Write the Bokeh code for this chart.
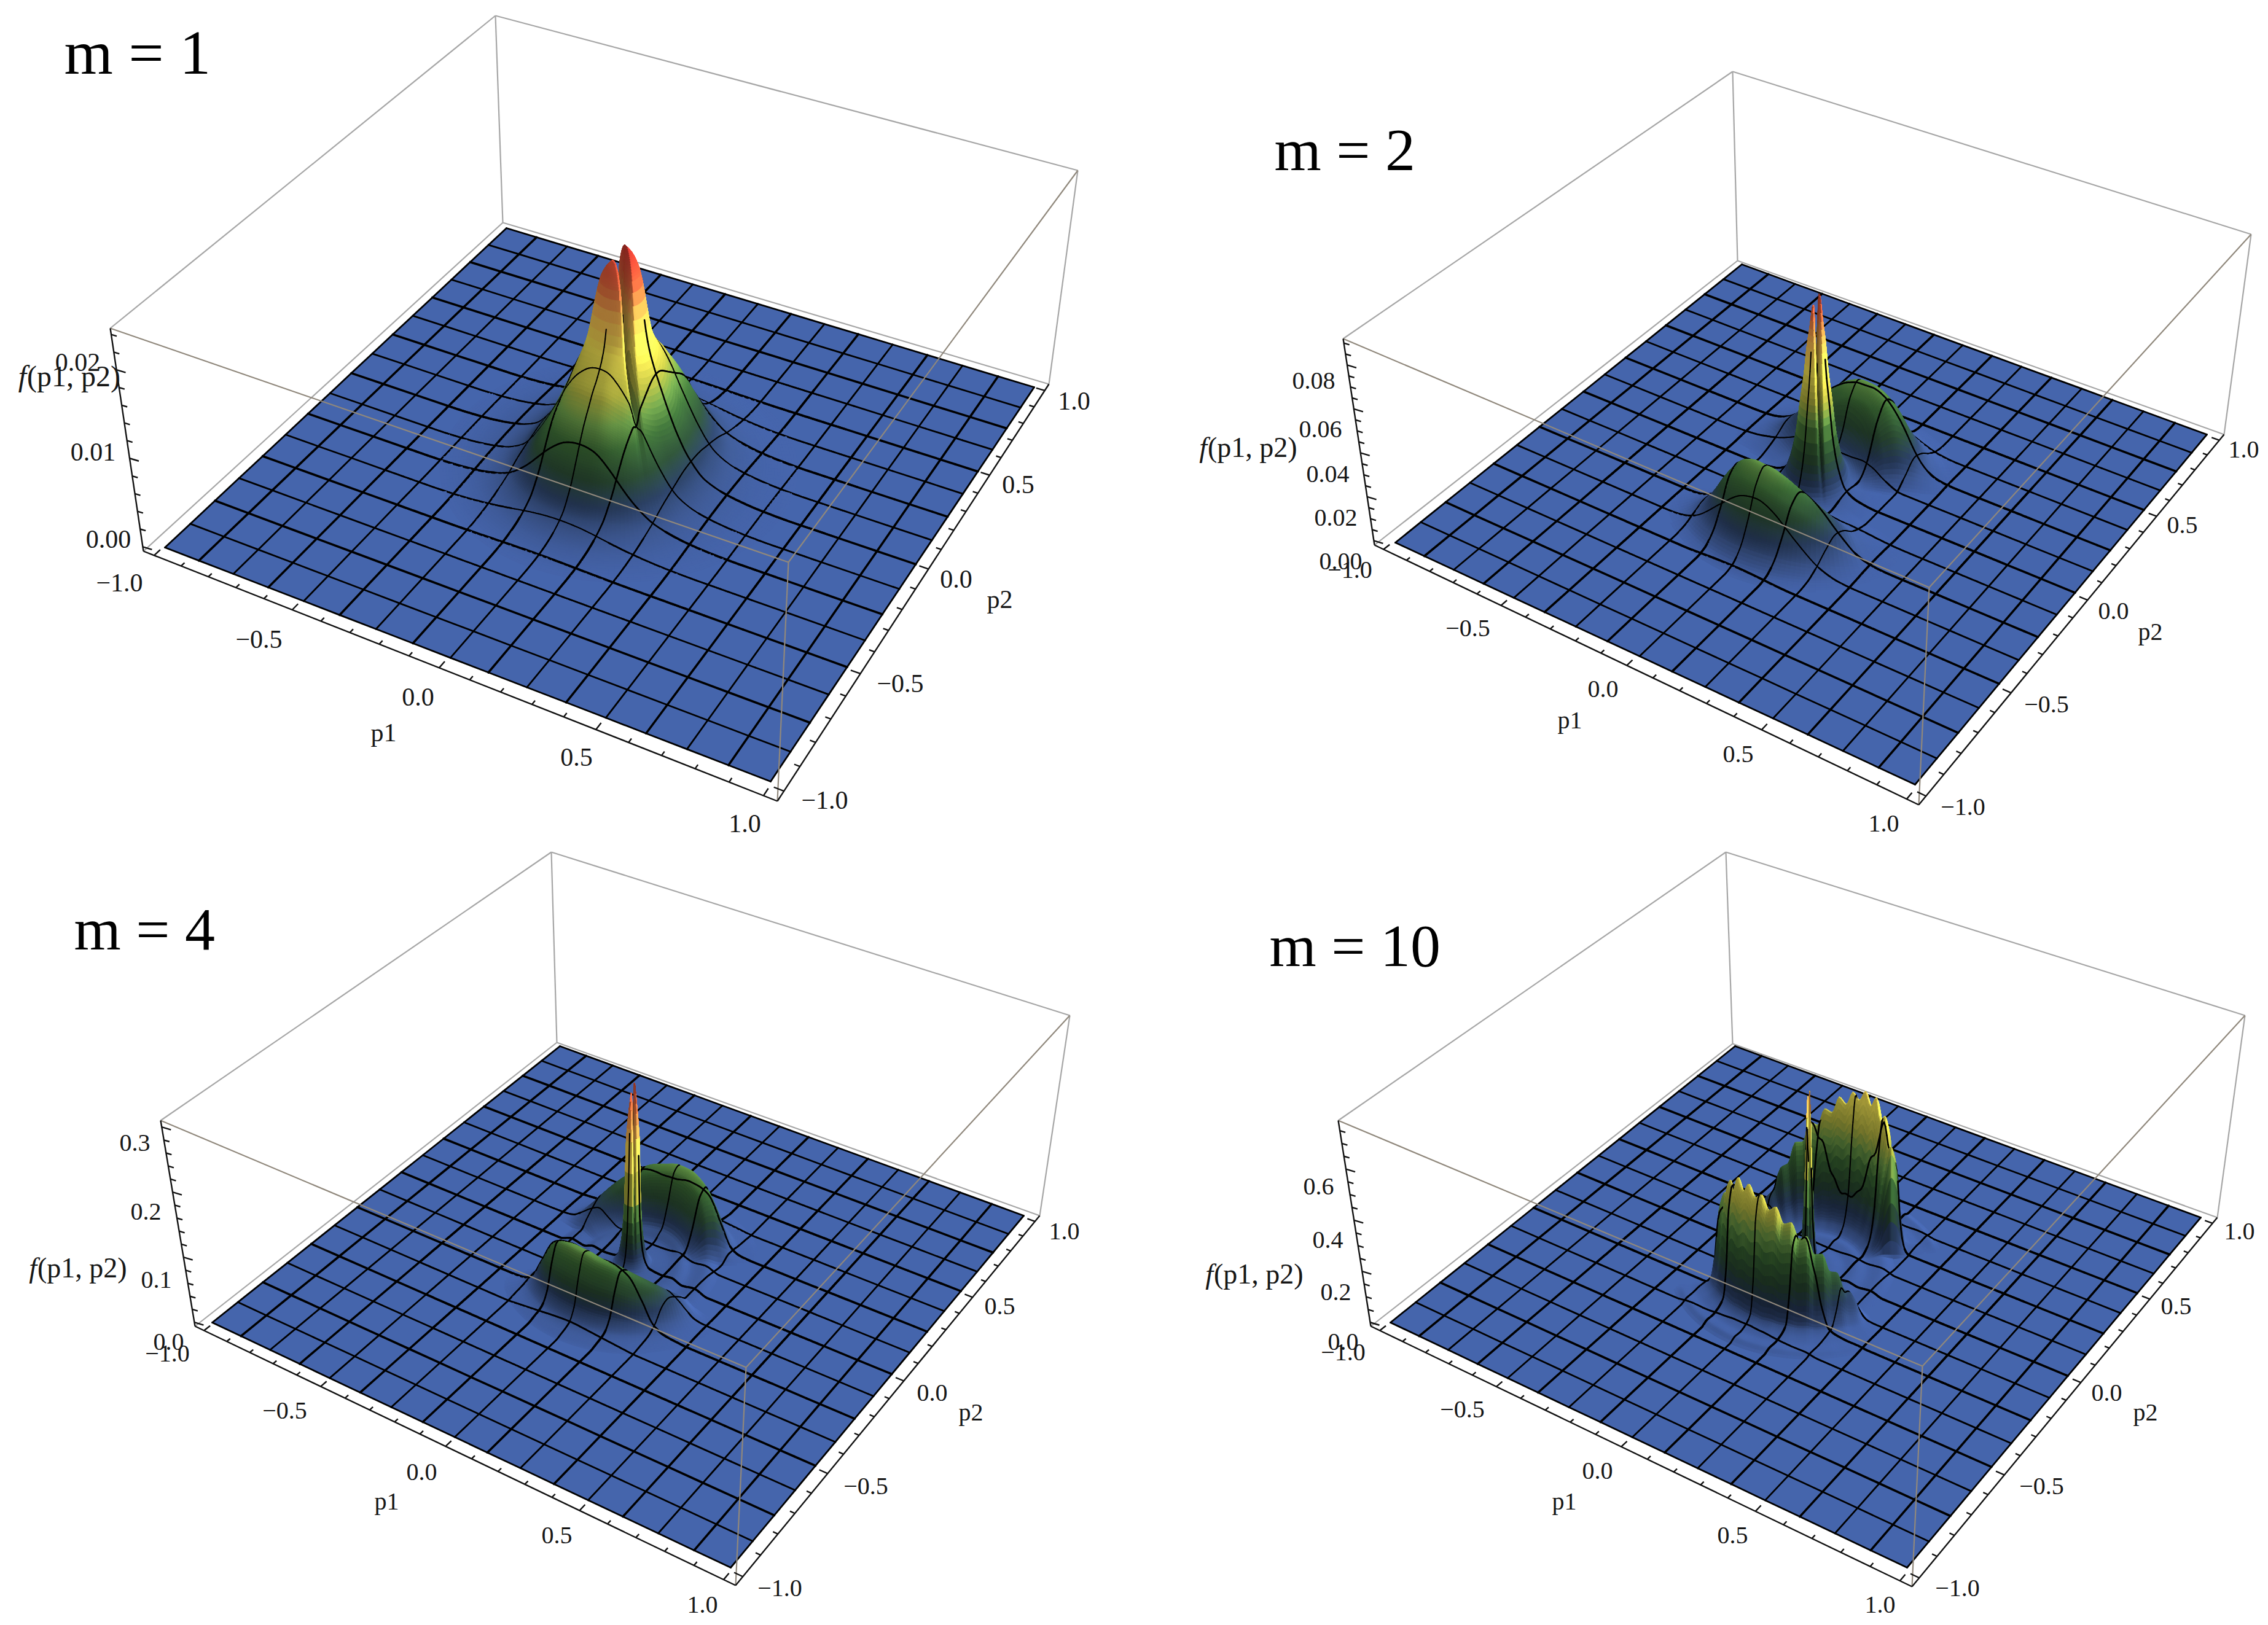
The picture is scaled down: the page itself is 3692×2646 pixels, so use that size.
import numpy as np
from bokeh.core.properties import value
from bokeh.embed import file_html
from bokeh.layouts import column, row
from bokeh.models import ColumnDataSource, Range1d
from bokeh.plotting import figure
from bokeh.resources import INLINE

# ---------- values (heights f(p1,p2) in axis units) ----------
m_labels = ["m = 1", "m = 2", "m = 4", "m = 10"]
p_tick_values = [-1.0, -0.5, 0.0, 0.5, 1.0]
p_tick_labels = ["\u22121.0", "\u22120.5", "0.0", "0.5", "1.0"]

z_tick_values_1 = [0.0, 0.01, 0.02]
z_tick_labels_1 = ["0.00", "0.01", "0.02"]
z_tick_values_2 = [0.0, 0.02, 0.04, 0.06, 0.08]
z_tick_labels_2 = ["0.00", "0.02", "0.04", "0.06", "0.08"]
z_tick_values_3 = [0.0, 0.1, 0.2, 0.3]
z_tick_labels_3 = ["0.0", "0.1", "0.2", "0.3"]
z_tick_values_4 = [0.0, 0.2, 0.4, 0.6]
z_tick_labels_4 = ["0.0", "0.2", "0.4", "0.6"]

# central spike: radial profile
spike_r_1 = [0, .03, .055, .1, .14, .2, .24, .3, .4, .5, .6]
spike_f_1 = [.0249, .0240, .0222, .0140, .0100, .0052, .0030, .0012, .0004, .0001, 0]
spike_r_2 = [0, .012, .022, .03, .04, .052, .068, .09, .12, .17, .25]
spike_f_2 = [.093, .086, .074, .066, .052, .040, .024, .012, .004, .001, 0]
spike_r_3 = [0, .005, .01, .016, .022, .026, .036, .05, .07, .12, .16, .2, .25, .3]
spike_f_3 = [.312, .285, .26, .23, .19, .11, .045, .018, .008, .006, .008, .003, .006, 0]
spike_r_4 = [0, .0025, .005, .01, .016, .024, .04, .08, .12, .16, .2, .25, .3]
spike_f_4 = [.80, .74, .64, .43, .22, .09, .018, .012, .006, .012, .006, .012, 0]

# left summit stands a little lower than the right one
left_r_1 = [0, .06, .15]
left_k_1 = [.93, .96, 1]
left_r_2 = [0, .03, .08]
left_k_2 = [.94, .97, 1]
left_r_3 = [0, .015, .04]
left_k_3 = [.94, .97, 1]
left_r_4 = [0, .01, .03]
left_k_4 = [.97, .98, 1]

# slit through the spike top: depth along the slit, and across it
slit_r_1 = [0, .05, .1, .2, .3]
slit_depth_1 = [.55, .5, .35, .08, 0]
slit_d_1 = [0, .005, .01, .017]
slit_w_1 = [1, .85, .35, 0]
slit_r_2 = [0, .03, .06, .1, .15]
slit_depth_2 = [.5, .45, .3, .1, 0]
slit_d_2 = [0, .003, .006, .01]
slit_w_2 = [1, .85, .35, 0]
slit_r_3 = [0, .015, .03, .05]
slit_depth_3 = [.5, .4, .2, 0]
slit_d_3 = [0, .0015, .003, .005]
slit_w_3 = [1, .85, .35, 0]
slit_r_4 = [0, .01, .02, .03]
slit_depth_4 = [.5, .4, .2, 0]
slit_d_4 = [0, .001, .002, .004]
slit_w_4 = [1, .85, .35, 0]

# crescent: crest height by polar angle (repeats every 180 degrees)
crest_deg_1 = [-180, -160, -140, -120, -100, -80, -60, -40, -20, 0]
crest_f_1 = [.0004, .0008, .0023, .0043, .0050, .0050, .0038, .0020, .0007, .0004]
crest_deg_2 = [-180, -150, -140, -130, -120, -110, -100, -90, -80, -70, -60, -50, -40, -30, -20, -10, 0]
crest_f_2 = [0, 0, .004, .014, .024, .029, .031, .031, .029, .025, .020, .014, .008, .003, .001, 0, 0]
crest_deg_3 = [-180, -145, -138, -130, -120, -110, -100, -90, -80, -70, -60, -50, -40, -30, -20, -12, 0]
crest_f_3 = [0, 0, .015, .05, .075, .085, .09, .09, .085, .08, .07, .058, .044, .028, .012, 0, 0]
crest_deg_4 = [-180, -136, -132, -128, -123, -118, -113, -108, -103, -98, -93, -88, -83, -78, -73, -68, -63,
               -58, -53, -48, -43, -38, -33, -28, -23, -18, 0]
crest_f_4 = [0, 0, .15, .36, .34, .44, .41, .48, .44, .48, .44, .46, .41, .43, .37, .38, .32,
             .33, .26, .26, .19, .18, .11, .09, .03, 0, 0]
# the far crescent compared with the near one
back_k = [1.0, 1.0, 1.0, 1.12]

# crescent: radial profile (share of the crest)
ring_r_1 = [.05, .09, .135, .18, .225, .27, .315, .36, .45, .54]
ring_w_1 = [0, .15, .45, .85, 1, .8, .45, .2, .04, 0]
ring_r_2 = [.095, .14, .19, .24, .285, .33, .38, .43, .475, .52]
ring_w_2 = [0, .1, .4, .85, 1, .85, .45, .15, .03, 0]
ring_r_3 = [.14, .18, .22, .26, .29, .32, .35, .38, .42, .46]
ring_w_3 = [0, .1, .45, .9, 1, .7, .25, .08, .03, 0]
ring_r_4 = [.18, .22, .25, .27, .29, .31, .33, .35, .38, .41, .44, .47]
ring_w_4 = [0, .05, .25, .7, 1, .85, .35, .08, .03, .015, .02, 0]

# ---------- camera of each panel: screen corners (left, front, right, back) ----------
PANELS = [
    dict(m=m_labels[0], mfs=102, frame=(0, 1850, 0, 1372), label_xy=(104, 85), back=back_k[0],
         top=[(179, 534), (1283, 915), (1754, 277), (806, 25)],
         floor=[(233, 897), (1265, 1304), (1707, 625), (818, 362)],
         surf=[(268, 891), (1254, 1272), (1683, 630), (824, 371)],
         zlim=(-.0005, .0247), zscale=.0247, zminor=.002,
         zv=z_tick_values_1, zl=z_tick_labels_1,
         z_xy=[(176, 877), (151, 735), (126, 589)],
         p1_xy=[(194, 948), (421, 1040), (680, 1134), (938, 1232), (1212, 1340)],
         p2_xy=[(1342, 1302), (1465, 1112), (1556, 942), (1657, 788), (1748, 652)],
         p1_name=(624, 1192), p2_name=(1627, 975), f_xy=(112, 612), fs=42, ffs=48,
         spike=(spike_r_1, spike_f_1), left=(left_r_1, left_k_1), slit=(slit_r_1, slit_depth_1, slit_d_1, slit_w_1),
         crest=(crest_deg_1, crest_f_1), ring=(ring_r_1, ring_w_1), ring_c=(0, 0), cscale=1.0, dth=2.0),
    dict(m=m_labels[1], mfs=98, frame=(1850, 3684, 0, 1372), label_xy=(2074, 243), back=back_k[1],
         top=[(2186, 551), (3140, 956), (3664, 381), (2820, 116)],
         floor=[(2237, 887), (3123, 1310), (3620, 707), (2828, 424)],
         surf=[(2271, 883), (3117, 1277), (3592, 707), (2835, 430)],
         zlim=(-.002, .092), zscale=.092, zminor=.005,
         zv=z_tick_values_2, zl=z_tick_labels_2,
         z_xy=[(2182, 913), (2174, 842), (2161, 771), (2149, 698), (2138, 619)],
         p1_xy=[(2197, 927), (2389, 1022), (2609, 1121), (2829, 1227), (3066, 1340)],
         p2_xy=[(3195, 1313), (3331, 1146), (3440, 994), (3552, 854), (3652, 731)],
         p1_name=(2555, 1172), p2_name=(3500, 1028), f_xy=(2031, 728), fs=40, ffs=46,
         spike=(spike_r_2, spike_f_2), left=(left_r_2, left_k_2), slit=(slit_r_2, slit_depth_2, slit_d_2, slit_w_2),
         crest=(crest_deg_2, crest_f_2), ring=(ring_r_2, ring_w_2), ring_c=(.015, -.025), cscale=1.0, dth=2.0),
    dict(m=m_labels[2], mfs=98, frame=(0, 1850, 1372, 2638), label_xy=(120, 1512), back=back_k[2],
         top=[(261, 1824), (1214, 2226), (1741, 1653), (897, 1387)],
         floor=[(317, 2159), (1197, 2581), (1692, 1979), (906, 1697)],
         surf=[(345, 2153), (1189, 2552), (1666, 1979), (911, 1703)],
         zlim=(-.006, .31), zscale=.31, zminor=.02,
         zv=z_tick_values_3, zl=z_tick_labels_3,
         z_xy=[(274, 2184), (254, 2083), (237, 1972), (219, 1860)],
         p1_xy=[(272, 2203), (463, 2296), (686, 2396), (906, 2499), (1143, 2612)],
         p2_xy=[(1269, 2585), (1409, 2419), (1517, 2267), (1627, 2126), (1732, 2004)],
         p1_name=(629, 2444), p2_name=(1580, 2299), f_xy=(126, 2064), fs=40, ffs=46,
         spike=(spike_r_3, spike_f_3), left=(left_r_3, left_k_3), slit=(slit_r_3, slit_depth_3, slit_d_3, slit_w_3),
         crest=(crest_deg_3, crest_f_3), ring=(ring_r_3, ring_w_3), ring_c=(0, 0), cscale=1.15, dth=2.0),
    dict(m=m_labels[3], mfs=98, frame=(1850, 3684, 1372, 2638), label_xy=(2066, 1539), back=back_k[3],
         top=[(2178, 1824), (3129, 2224), (3654, 1653), (2809, 1387)],
         floor=[(2231, 2159), (3112, 2583), (3609, 1982), (2820, 1699)],
         surf=[(2263, 2153), (3104, 2552), (3582, 1982), (2824, 1703)],
         zlim=(-.015, .79), zscale=.79, zminor=.05,
         zv=z_tick_values_4, zl=z_tick_labels_4,
         z_xy=[(2186, 2184), (2174, 2103), (2161, 2018), (2146, 1931)],
         p1_xy=[(2186, 2201), (2380, 2294), (2600, 2394), (2820, 2499), (3060, 2612)],
         p2_xy=[(3186, 2585), (3323, 2419), (3429, 2267), (3542, 2126), (3645, 2004)],
         p1_name=(2546, 2444), p2_name=(3492, 2299), f_xy=(2041, 2074), fs=40, ffs=46,
         spike=(spike_r_4, spike_f_4), left=(left_r_4, left_k_4), slit=(slit_r_4, slit_depth_4, slit_d_4, slit_w_4),
         crest=(crest_deg_4, crest_f_4), ring=(ring_r_4, ring_w_4), ring_c=(0, 0), cscale=.9, dth=1.25),
]

# colour of the surface by share of the box height
CM_H = [0, .04, .10, .18, .28, .36, .45, .58, .72, .85, 1.0]
CM_RGB = [(70, 101, 172), (63, 90, 148), (46, 68, 104), (47, 82, 56), (63, 112, 56), (106, 154, 72),
          (176, 176, 64), (232, 216, 80), (235, 176, 78), (216, 96, 58), (192, 50, 45)]
FLOOR = "#4565ac"
BOX = "#a6a6a6"
FRONT = "#90887c"
SERIF = value("Liberation Serif")


def pchip(x, y, q):
    x, y = np.asarray(x, float), np.asarray(y, float)
    h = np.diff(x)
    d = np.diff(y) / h
    m = np.zeros_like(y)
    for i in range(1, len(x) - 1):
        if d[i - 1] * d[i] > 0:
            w1, w2 = 2 * h[i] + h[i - 1], h[i] + 2 * h[i - 1]
            m[i] = (w1 + w2) / (w1 / d[i - 1] + w2 / d[i])
    q = np.clip(q, x[0], x[-1])
    i = np.clip(np.searchsorted(x, q) - 1, 0, len(x) - 2)
    t = (q - x[i]) / h[i]
    return ((2 * t**3 - 3 * t**2 + 1) * y[i] + (t**3 - 2 * t**2 + t) * h[i] * m[i]
            + (-2 * t**3 + 3 * t**2) * y[i + 1] + (t**3 - t**2) * h[i] * m[i + 1])


def homography(dst):
    src = [(-1, -1), (1, -1), (1, 1), (-1, 1)]
    A, b = [], []
    for (u, v), (x, y) in zip(src, dst):
        A.append([u, v, 1, 0, 0, 0, -u * x, -v * x])
        A.append([0, 0, 0, u, v, 1, -u * y, -v * y])
        b += [x, y]
    a = np.linalg.solve(np.array(A, float), np.array(b, float))
    M = np.append(a, 1).reshape(3, 3)

    def apply(u, v):
        u, v = np.asarray(u, float), np.asarray(v, float)
        w = M[2, 0] * u + M[2, 1] * v + M[2, 2]
        return (M[0, 0] * u + M[0, 1] * v + M[0, 2]) / w, (M[1, 0] * u + M[1, 1] * v + M[1, 2]) / w
    return apply


def build_panel(P):
    S, B, T = homography(P["surf"]), homography(P["floor"]), homography(P["top"])
    x0, x1, y0, y1 = P["frame"]
    fig = figure(width=x1 - x0, height=y1 - y0, x_range=Range1d(x0, x1), y_range=Range1d(y1, y0),
                 output_backend="svg", toolbar_location=None, min_border=0)
    fig.axis.visible = False
    fig.grid.visible = False
    fig.outline_line_color = None
    fig.background_fill_color = "white"
    fig.border_fill_color = "white"

    def height(p1, p2):
        r = np.hypot(p1, p2)
        sr, sf = P["spike"]
        z = pchip(sr, sf, r)
        lr, lk = P["left"]
        z = z * np.where(p1 + p2 < 0, pchip(lr, lk, r), 1.0)
        lr, ld, dd, dw = P["slit"]
        z = z * (1 - pchip(lr, ld, r) * pchip(dd, dw, np.abs(p1 + p2) / np.sqrt(2)))
        c1_, c2_ = P["ring_c"]
        q1, q2 = p1 - c1_, p2 - c2_
        ang = np.degrees(np.arctan2(q2, q1))
        far = np.where(ang > 0, P["back"], 1.0)
        ang = ((ang + 180) % 180) - 180
        cd, cf = P["crest"]
        rr, rw = P["ring"]
        z = z + far * pchip(cd, cf, ang) * pchip(rr, rw, np.hypot(q1, q2))
        return np.maximum(z, 0) / P["zscale"]

    def project(p1, p2, h):
        sx, sy = S(p1, p2)
        bx, by = B(p1 / 1.04, p2 / 1.04)
        tx, ty = T(p1 / 1.04, p2 / 1.04)
        return sx + h * (tx - bx), sy + h * (ty - by)

    # box edges behind the surface
    L, F, R, K = 0, 1, 2, 3
    bot, top = P["floor"], P["top"]
    back = [(bot[L], bot[K]), (bot[K], bot[R]), (bot[K], top[K]), (bot[R], top[R]),
            (top[L], top[K]), (top[K], top[R])]
    fig.segment([a[0] for a, b in back], [a[1] for a, b in back], [b[0] for a, b in back], [b[1] for a, b in back],
                line_color=BOX, line_width=2.2)
    sc = np.array(P["surf"], float)
    fig.patch(sc[:, 0].tolist(), sc[:, 1].tolist(), fill_color=FLOOR, line_color=FLOOR, line_width=1)

    # surface pieces of the raised part
    rn = np.concatenate([np.arange(0, .06, .003), np.arange(.06, .2, .007),
                         np.arange(.2, .45, .0035), np.arange(.45, .72, .009)])
    th = np.radians(np.arange(-179, 181, P["dth"]))
    rg, tg = np.meshgrid(rn, th, indexing="ij")
    r_a, r_b = rg[:-1], rg[1:]
    c1 = (r_a * np.cos(tg[:-1]), r_a * np.sin(tg[:-1]))
    c2 = (r_b * np.cos(tg[1:]), r_b * np.sin(tg[1:]))
    c3 = (r_b * np.cos(np.roll(tg, -1, 1)[1:]), r_b * np.sin(np.roll(tg, -1, 1)[1:]))
    c4 = (r_a * np.cos(np.roll(tg, -1, 1)[:-1]), r_a * np.sin(np.roll(tg, -1, 1)[:-1]))
    corners = [c1, c2, c3, c4]
    hs = [height(c[0], c[1]) for c in corners]
    hmax = np.max(hs, axis=0)
    hmean = np.mean(hs, axis=0)
    keep = hmax > .0012
    cx = np.mean([c[0] for c in corners], axis=0)[keep]
    cy = np.mean([c[1] for c in corners], axis=0)[keep]
    hk = hmean[keep]
    eps = .004
    q = np.sqrt(.5)
    # faces turned to the right are lighter, faces turned to the viewer are darker low down
    slope = (height(cx - eps * q, cy - eps * q) - height(cx + eps * q, cy + eps * q)) / (2 * eps)
    slope_v = (height(cx - eps * q, cy + eps * q) - height(cx + eps * q, cy - eps * q)) / (2 * eps)
    shade = 1 + .3 * np.tanh(slope / 1.5)
    shade = shade * (1 - .38 * np.tanh(np.maximum(slope_v, 0) / 4) * (1 - np.clip(hk / .6, 0, 1)))
    lr_, ld_, dd_, dw_ = P["slit"]
    shade = shade * (1 - .55 * pchip(dd_, dw_, np.abs(cx + cy) * q) * pchip(lr_, ld_, np.hypot(cx, cy)) / ld_[0])
    hc = np.interp(hk, [0, .6, 1], [0, .6 * P["cscale"], 1])
    col = np.stack([np.interp(hc, CM_H, [c[i] for c in CM_RGB]) for i in range(3)], axis=1)
    col = np.clip(col * shade[:, None], 0, 255).astype(int)
    colors = ["#%02x%02x%02x" % tuple(c) for c in col]
    qx = np.stack([project(c[0][keep], c[1][keep], h[keep])[0] for c, h in zip(corners, hs)], axis=1)
    qy = np.stack([project(c[0][keep], c[1][keep], h[keep])[1] for c, h in zip(corners, hs)], axis=1)

    xs = np.round(qx, 1).tolist()
    ys = np.round(qy, 1).tolist()
    fa = [1.0] * len(xs)
    lc = list(colors)
    fc = list(colors)
    lw = [1.0] * len(xs)
    key = S(cx, cy)[1].tolist()

    # mesh lines and the surface boundary, sampled finely over the raised part
    def add_line(a, along_first, width):
        ts = []
        t = -1.0
        while t < 1.0 - 1e-9:
            pp = (t, a) if along_first else (a, t)
            inside = np.hypot(pp[0], pp[1]) < .74
            step = .006 if inside else min(.125, 1.0 - t)
            nxt = min(t + step, 1.0)
            ts.append((t, nxt))
            t = nxt
        ts = np.array(ts)
        if along_first:
            p1a, p2a, p1b, p2b = ts[:, 0], np.full(len(ts), a), ts[:, 1], np.full(len(ts), a)
        else:
            p1a, p2a, p1b, p2b = np.full(len(ts), a), ts[:, 0], np.full(len(ts), a), ts[:, 1]
        ha, hb = height(p1a, p2a), height(p1b, p2b)
        vis = (ha < .72) & (hb < .72)
        xa, ya = project(p1a, p2a, ha)
        xb, yb = project(p1b, p2b, hb)
        k = S((p1a + p1b) / 2, (p2a + p2b) / 2)[1] + 3.0
        xs.extend(np.round(np.stack([xa, xb], 1), 1)[vis].tolist())
        ys.extend(np.round(np.stack([ya, yb], 1), 1)[vis].tolist())
        n = int(vis.sum())
        fa.extend([0.0] * n)
        fc.extend(["#000000"] * n)
        lc.extend(["#000000"] * n)
        lw.extend(np.where((ha[vis] + hb[vis]) / 2 > .03, width * .72, width).tolist())
        key.extend(k[vis].tolist())

    for i in range(-7, 8):
        add_line(i / 8, True, 3.6 if i % 2 == 0 else 2.8)
        add_line(i / 8, False, 3.6 if i % 2 else 2.8)
    for edge in (-1.0, 1.0):
        add_line(edge, True, 2.8)
        add_line(edge, False, 2.8)

    order = np.argsort(key, kind="stable")
    src = ColumnDataSource(dict(
        xs=[xs[i] for i in order], ys=[ys[i] for i in order],
        fc=[fc[i] for i in order], fa=[fa[i] for i in order],
        lc=[lc[i] for i in order], lw=[lw[i] for i in order]))
    fig.patches("xs", "ys", source=src, fill_color="fc", fill_alpha="fa", line_color="lc", line_width="lw",
                line_join="round", line_cap="round")

    # box edges in front of the surface
    front = [(top[L], top[F]), (top[F], top[R]), (top[F], bot[F])]
    fig.segment([a[0] for a, b in front], [a[1] for a, b in front], [b[0] for a, b in front], [b[1] for a, b in front],
                line_color=FRONT, line_width=2.2)

    # axes drawn by projection of the tick values
    def seg_add(store, ax, ay, bx, by):
        store[0].append(float(ax)); store[1].append(float(ay)); store[2].append(float(bx)); store[3].append(float(by))
    st = ([], [], [], [])
    seg_add(st, *bot[L], *bot[F])
    seg_add(st, *bot[F], *bot[R])
    seg_add(st, *bot[L], *top[L])
    for k in range(-10, 11):
        v = k / 10
        ln = .028 if k % 5 == 0 else .016
        seg_add(st, *B(v / 1.04, -1.0), *B(v / 1.04, -1.0 + ln))
        seg_add(st, *B(1.0, v / 1.04), *B(1.0 - ln, v / 1.04))
    zb, zt = P["zlim"]
    lx, ly, tx, ty = bot[L][0], bot[L][1], top[L][0], top[L][1]
    major = P["zv"][1] - P["zv"][0]
    z = 0.0
    while z <= zt:
        fz = (z - zb) / (zt - zb)
        ax, ay = lx + fz * (tx - lx), ly + fz * (ty - ly)
        is_major = abs(z / major - round(z / major)) < 1e-6
        ln = 15 if is_major else 9
        seg_add(st, ax, ay, ax + ln, ay + ln * .3)
        z += P["zminor"]
    fig.segment(st[0], st[1], st[2], st[3], line_color="#111111", line_width=2.4)

    # texts
    def put(x, y, text, size, style="normal", align="center"):
        fig.text(x=x, y=y, text=text, text_font=SERIF, text_font_size=f"{size}px", text_font_style=style,
                 text_align=align, text_baseline="middle", text_color="#161616")

    put([a for a, b in P["z_xy"]], [b for a, b in P["z_xy"]], P["zl"], P["fs"])
    put([a for a, b in P["p1_xy"]], [b for a, b in P["p1_xy"]], p_tick_labels, P["fs"])
    put([a for a, b in P["p2_xy"]], [b for a, b in P["p2_xy"]], p_tick_labels, P["fs"])
    put([P["p1_name"][0]], [P["p1_name"][1]], ["p1"], P["fs"])
    put([P["p2_name"][0]], [P["p2_name"][1]], ["p2"], P["fs"])
    fx, fy = P["f_xy"]
    w = P["ffs"] * 3.45
    put([fx - w / 2], [fy], ["f"], P["ffs"], "italic", "left")
    put([fx - w / 2 + P["ffs"] * .3], [fy], ["(p1, p2)"], P["ffs"], "normal", "left")
    fig.text(x=[P["label_xy"][0]], y=[P["label_xy"][1]], text=[P["m"]], text_font=SERIF,
             text_font_size=f"{P['mfs']}px", text_align="left", text_baseline="middle", text_color="#000000")
    return fig


figs = [build_panel(P) for P in PANELS]
page = column(row(figs[0], figs[1], spacing=0), row(figs[2], figs[3], spacing=0), spacing=0)
open("out.html", "w").write(file_html(page, INLINE))
